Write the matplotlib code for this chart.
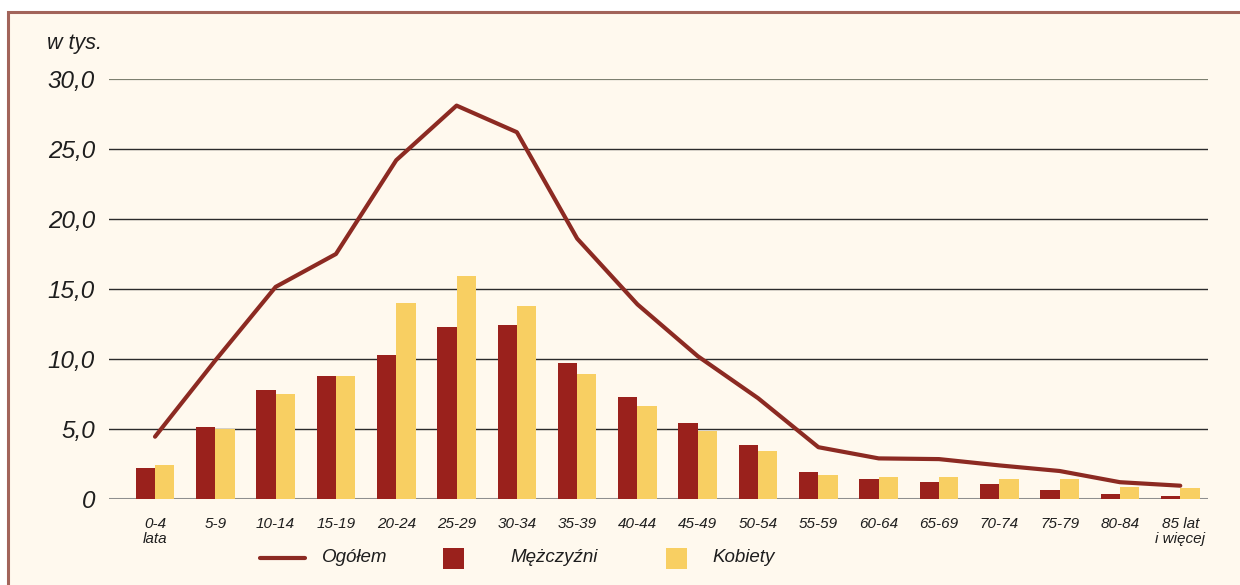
import numpy as np
import matplotlib
matplotlib.use("Agg")
import matplotlib.pyplot as plt
from matplotlib.patches import Rectangle
from matplotlib.lines import Line2D

plt.rcParams['font.family'] = ['Liberation Sans', 'DejaVu Sans']

# Data (w tys.)
groups = ["0-4\nlata", "5-9", "10-14", "15-19", "20-24", "25-29", "30-34", "35-39",
          "40-44", "45-49", "50-54", "55-59", "60-64", "65-69", "70-74", "75-79",
          "80-84", "85 lat\ni więcej"]
men = [2.2, 5.15, 7.8, 8.8, 10.3, 12.3, 12.4, 9.7, 7.3, 5.4, 3.85, 1.95, 1.45, 1.2,
       1.05, 0.65, 0.35, 0.2]
women = [2.4, 5.0, 7.5, 8.8, 14.0, 15.9, 13.8, 8.9, 6.65, 4.85, 3.45, 1.7, 1.6, 1.6,
         1.45, 1.45, 0.85, 0.8]
total = [4.45, 9.9, 15.15, 17.5, 24.2, 28.1, 26.2, 18.6, 13.9, 10.2, 7.2, 3.7, 2.9,
         2.85, 2.4, 2.0, 1.2, 0.95]
yticks = [0, 5, 10, 15, 20, 25, 30]
ytick_labels = ["0", "5,0", "10,0", "15,0", "20,0", "25,0", "30,0"]

BG = "#fff9ee"
BORDER = "#a2645a"
MEN_C = "#9a211c"
WOMEN_C = "#f8cf62"
LINE_C = "#8c2a22"
TXT = "#1e1e1e"

W, H = 1240, 585
fig = plt.figure(figsize=(W / 100, H / 100), dpi=100, facecolor="white")

# panel background with border
fig.add_artist(Rectangle((8 / W, -0.05), 1.1, 1 - 12 / H + 0.05, transform=fig.transFigure,
                         facecolor=BG, edgecolor=BORDER, linewidth=2.2, zorder=0))

ax = fig.add_axes([109 / W, 1 - 499 / H, (1208 - 109) / W, (499 - 79) / H])
ax.set_facecolor("none")

x = np.arange(len(groups))
bw = 0.32
ax.bar(x - bw / 2, men, bw, color=MEN_C, zorder=3)
ax.bar(x + bw / 2, women, bw, color=WOMEN_C, zorder=3)
ax.plot(x, total, color=LINE_C, linewidth=3, zorder=4, solid_capstyle="round")

ax.set_xlim(-0.763, 17.46)
ax.set_ylim(0, 30)
for y in yticks:
    if y == 0:
        ax.axhline(y, color="#8f8f8f", linewidth=2.2, zorder=2)
    elif y == 30:
        ax.axhline(y, color="#7d8070", linewidth=1.6, zorder=2)
    else:
        ax.axhline(y, color="#2b2b2b", linewidth=1.0, zorder=2)

for s in ax.spines.values():
    s.set_visible(False)
ax.tick_params(length=0)
ax.set_yticks(yticks)
ax.set_yticklabels(ytick_labels, fontsize=17.5, style="italic", color=TXT)
ax.tick_params(axis="y", pad=10)
ax.set_xticks(x)
ax.set_xticklabels(groups, fontsize=11, style="italic", color=TXT, linespacing=1.05)
ax.tick_params(axis="x", pad=13)

fig.text(47 / W, 1 - 43 / H, "w tys.", fontsize=15.5, style="italic", color=TXT,
         va="center", ha="left")

# legend
ly = 1 - 558 / H
fig.add_artist(Line2D([260 / W, 305 / W], [ly, ly], transform=fig.transFigure,
                      color=LINE_C, linewidth=3, solid_capstyle="round"))
fig.text(322 / W, ly, "Ogółem", fontsize=13.5, style="italic", color=TXT, va="center")
fig.add_artist(Rectangle((443 / W, 1 - 569 / H), 21 / W, 21 / H, transform=fig.transFigure,
                         facecolor=MEN_C, edgecolor="none"))
fig.text(510 / W, ly, "Mężczyźni", fontsize=13.5, style="italic", color=TXT, va="center")
fig.add_artist(Rectangle((666 / W, 1 - 569 / H), 21 / W, 21 / H, transform=fig.transFigure,
                         facecolor=WOMEN_C, edgecolor="none"))
fig.text(712 / W, ly, "Kobiety", fontsize=13.5, style="italic", color=TXT, va="center")

fig.savefig("out.png", dpi=100, facecolor="white")
